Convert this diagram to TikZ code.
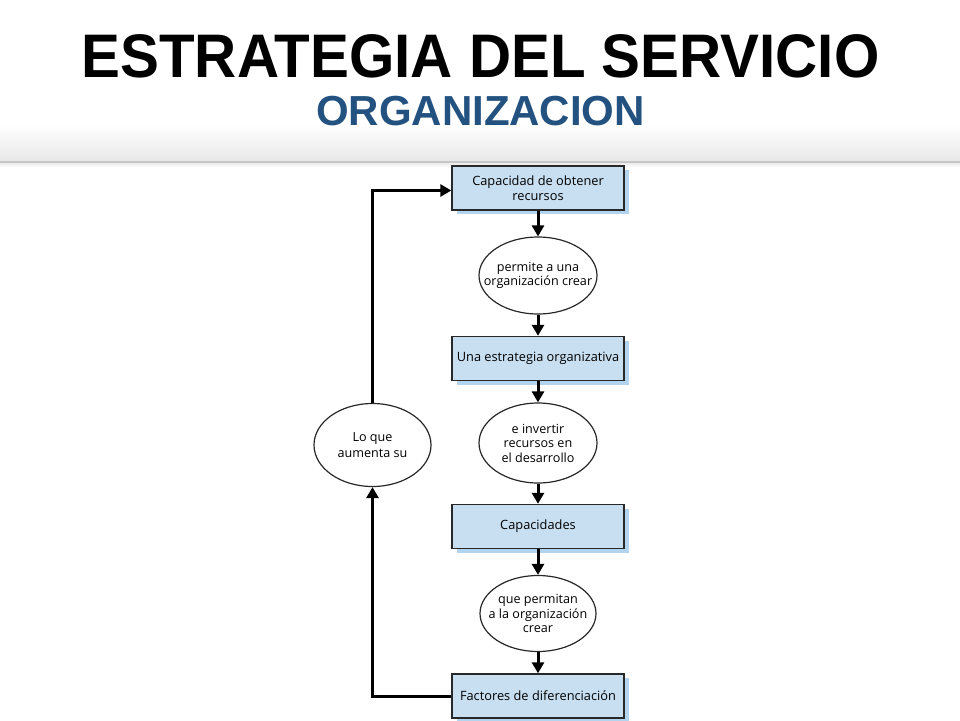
\documentclass[tikz,border=0pt]{standalone}
\usepackage{fontspec}
\setmainfont{Open Sans}
\newfontfamily\titlefont{Liberation Sans}
\usetikzlibrary{shapes.geometric,arrows.meta,shadows,positioning}
\definecolor{boxblue}{RGB}{200,223,241}
\definecolor{shadowblue}{RGB}{178,212,238}
\definecolor{subblue}{RGB}{35,82,128}
\definecolor{edgegray}{RGB}{40,40,40}
\tikzset{
  flowbox/.style={draw=edgegray, line width=1.4pt, fill=boxblue, rectangle,
    minimum width=172pt, minimum height=44pt, inner sep=0pt, align=center,
    font=\fontsize{12.8}{15}\selectfont,
    drop shadow={shadow xshift=5pt, shadow yshift=-4pt, fill=shadowblue, opacity=1}},
  flowell/.style={draw=edgegray, line width=1.2pt, fill=white, ellipse, inner sep=0pt},
  elltext/.style={align=center, inner sep=0pt, font=\fontsize{12.6}{14.5}\selectfont},
  conn/.style={line width=3pt, -{Triangle[length=11pt,width=12pt]}},
}
\begin{document}
\begin{tikzpicture}[x=1pt,y=-1pt]
\useasboundingbox (0,0) rectangle (960,720);
% header
\fill[white] (0,0) rectangle (960,720);
\shade[top color=white, bottom color=black!9] (0,125) rectangle (960,160.5);
\fill[black!22] (0,160.5) rectangle (960,163);
\shade[top color=black!8, bottom color=white] (0,163) rectangle (960,167);
\node[anchor=base, font=\titlefont\bfseries\fontsize{61.5}{61.5}\selectfont, xscale=0.948, inner sep=0pt] (title) at (480.5,77) {ESTRATEGIA DEL SERVICIO};
\node[anchor=base, font=\titlefont\bfseries\fontsize{42}{42}\selectfont, text=subblue, inner sep=0pt] (sub) at (480.5,125) {ORGANIZACION};
% flow
\node[flowbox] (b1) at (538,188) {Capacidad de obtener\\recursos};
\node[flowell, minimum width=118pt, minimum height=77pt] (e1) at (538,275.5) {};
\node[elltext] (t1) at (e1) {permite a una\\organización crear};
\node[flowbox] (b2) at (538,358.5) {Una estrategia organizativa};
\node[flowell, minimum width=118pt, minimum height=80pt] (e2) at (538,443) {};
\node[elltext] (t2) at (e2) {e invertir\\recursos en\\el desarrollo};
\node[flowbox] (b3) at (538,526.5) {Capacidades};
\node[flowell, minimum width=116pt, minimum height=76pt] (e3) at (538,613.5) {};
\node[elltext] (t3) at (e3) {que permitan\\a la organización\\crear};
\node[flowbox] (b4) at (538,696) {Factores de diferenciación};
\node[flowell, minimum width=117pt, minimum height=83pt] (l) at (372.5,445) {};
\node[elltext, font=\fontsize{12.6}{16}\selectfont] (tl) at (l.center) {Lo que\\aumenta su};
% connectors
\draw[conn] (b1) -- (e1);
\draw[conn] (e1) -- (b2);
\draw[conn] (b2) -- (e2);
\draw[conn] (e2) -- (b3);
\draw[conn] (b3) -- (e3);
\draw[conn] (e3) -- (b4);
\draw[conn] (b4.west) -| (l.south);
\draw[conn] (l.north) |- ([yshift=-2.5pt]b1.west);
\end{tikzpicture}
\end{document}
